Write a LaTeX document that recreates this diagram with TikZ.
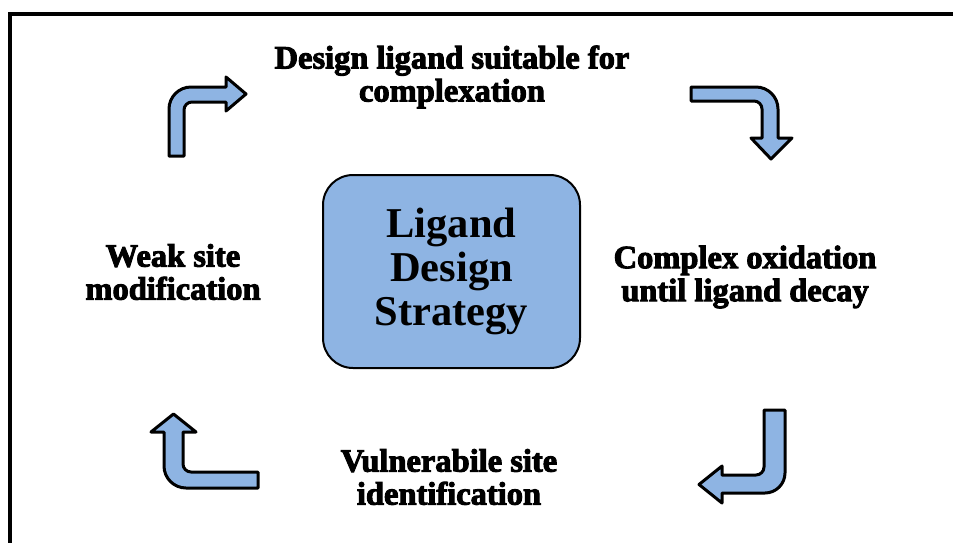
\documentclass[tikz,border=0pt]{standalone}
\usepackage{fontspec}
\setmainfont{Liberation Serif}
\newfontfamily\heavy{Liberation Serif Bold}[FakeBold=3]
\newfontfamily\boxfont{Liberation Serif Bold}
\definecolor{arrowblue}{HTML}{8EB4E3}
\begin{document}
\begin{tikzpicture}[x=1pt,y=-1pt,
  bentarrow/.style={draw=black,fill=arrowblue,line width=3pt,line join=round},
  lbl/.style={inner sep=0pt,align=center,font=\heavy\fontsize{32.5}{33}\selectfont},
  core/.style={draw=black,fill=arrowblue,line width=2pt,rounded corners=30pt,inner sep=0pt,
    minimum width=257pt,minimum height=193pt,align=center,font=\boxfont\fontsize{42.5}{44}\selectfont}]
\useasboundingbox (0,0) rectangle (953,542);
% frame
\draw[line width=4pt] (10,560) -- (10,14) -- (970,14);
% centre box
\node[core] (strategy) at (451.5,271.5) {Ligand\\Design\\Strategy};
% labels
\node[lbl] (design) at (452,77) {Design ligand suitable for\\complexation};
\node[lbl] (oxid) at (745,277) {Complex oxidation\\until ligand decay};
\node[lbl] (weak) at (173,272) {Weak site\\modification};
\node[lbl] (vuln) at (449,477) {Vulnerabile site\\identification};
% top-left bent arrow
\draw[bentarrow] (169,156) -- (169,109) .. controls (169,96.9) and (178.9,87) .. (191,87)
  -- (226,87) -- (226,77) -- (246,94) -- (226,111) -- (226,102) -- (192,102)
  .. controls (187.6,102) and (184,105.6) .. (184,110) -- (184,156) -- cycle;
% top-right bent arrow
\draw[bentarrow] (691,87) -- (756,87) .. controls (768.1,87) and (778,96.9) .. (778,109)
  -- (778,138) -- (792,138) -- (771,159) -- (751,138) -- (762,138) -- (762,109)
  .. controls (762,104.6) and (758.4,101) .. (754,101) -- (691,101) -- cycle;
% bottom-right bent arrow
\draw[bentarrow] (764,410) -- (785,410) -- (785,473) .. controls (785,484) and (776,493) .. (765,493)
  -- (722,493) -- (722,503) -- (699,484.5) -- (722,466) -- (722,475) -- (756,475)
  .. controls (760.4,475) and (764,471.4) .. (764,467) -- cycle;
% bottom-left bent arrow
\draw[bentarrow] (258,472) -- (191,472) .. controls (186.6,472) and (183,468.4) .. (183,464)
  -- (183,432) -- (196,432) -- (173.5,414) -- (151,432) -- (164,432) -- (164,466)
  .. controls (164,478.1) and (173.9,488) .. (186,488) -- (258,488) -- cycle;
\end{tikzpicture}
\end{document}
